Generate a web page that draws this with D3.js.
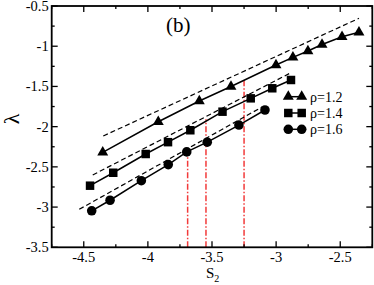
<!DOCTYPE html>
<html>
<head>
<meta charset="utf-8">
<script src="https://cdn.jsdelivr.net/npm/d3@7"></script>
<style>
  body { margin: 0; background: #fff; }
</style>
</head>
<body>
<div id="chart"></div>
<script>
// ---- data ----
const tri12 = [[-4.352, -2.319], [-3.919, -1.939], [-3.599, -1.681], [-3.352, -1.501], [-3.001, -1.234],
    [-2.869, -1.138], [-2.752, -1.060], [-2.642, -0.979], [-2.486, -0.882], [-2.354, -0.827]]
const sq14 = [[-4.451, -2.734], [-4.270, -2.573], [-4.017, -2.340], [-3.843, -2.193], [-3.669, -2.045],
    [-3.418, -1.814], [-3.198, -1.648], [-3.030, -1.523], [-2.884, -1.420]]
const circ16 = [[-4.438, -3.046], [-4.295, -2.915], [-4.051, -2.672], [-3.841, -2.472], [-3.697, -2.314],
    [-3.537, -2.193], [-3.290, -1.980], [-3.087, -1.793]]

// dashed fits (start / end)
const fit12 = [[-4.348, -2.116], [-2.354, -0.653]]
const fit14 = [[-4.430, -2.601], [-2.884, -1.329]]
const fit16 = [[-4.535, -3.028], [-3.110, -1.756]]

// red dash-dot markers: [S2, top λ]
const redLines = [[-3.69, -2.278], [-3.547, -1.909], [-3.25, -1.411]]

const legendLabels = ["ρ=1.2", "ρ=1.4", "ρ=1.6"]
const xTicks = [-4.5, -4, -3.5, -3, -2.5]
const yTicks = [-3.5, -3, -2.5, -2, -1.5, -1, -0.5]

//____________________________LAYOUT________________________//
const W = 374, H = 285
const margin = {top: 6, right: 1.7, bottom: 37.7, left: 51.7}
const FONT = "'Liberation Serif', 'Times New Roman', Tinos, 'DejaVu Serif', serif"

const svg = d3.select('#chart').append('svg')
    .attr('width', W)
    .attr('height', H)
    .attr('font-family', FONT)
    .style('font-family', FONT)

const x = d3.scaleLinear().domain([-4.75, -2.25]).range([margin.left, W - margin.right])
const y = d3.scaleLinear().domain([-3.5, -0.5]).range([H - margin.bottom, margin.top])

const line = d3.line().x(d => x(d[0])).y(d => y(d[1]))

//___red dash-dot verticals___//
svg.append('g').selectAll('line')
    .data(redLines)
    .join('line')
    .attr('x1', d => x(d[0]))
    .attr('x2', d => x(d[0]))
    .attr('y1', y(-3.5))
    .attr('y2', d => y(d[1]))
    .attr('stroke', '#f23a3a')
    .attr('stroke-width', 1.5)
    .attr('stroke-dasharray', '6,2,1.5,2')

//___dashed fits___//
svg.append('g').selectAll('path')
    .data([fit12, fit14, fit16])
    .join('path')
    .attr('d', line)
    .attr('fill', 'none')
    .attr('stroke', 'black')
    .attr('stroke-width', 1.2)
    .attr('stroke-dasharray', '5,3')

//___solid connecting lines___//
const series = [tri12, sq14, circ16]
svg.append('g').selectAll('path')
    .data(series)
    .join('path')
    .attr('d', line)
    .attr('fill', 'none')
    .attr('stroke', 'black')
    .attr('stroke-width', 1.5)

//___markers___//
const symbols = [
    d3.symbol().type(d3.symbolTriangle).size(52),
    d3.symbol().type(d3.symbolSquare).size(72),
    d3.symbol().type(d3.symbolCircle).size(72)
]

series.forEach((s, i) => {
    svg.append('g').selectAll('path')
        .data(s)
        .join('path')
        .attr('transform', d => `translate(${x(d[0])},${y(d[1])})`)
        .attr('d', symbols[i]())
        .attr('fill', 'black')
})

//___axes: ticks inward on all four sides___//
const major = 6, minor = 3
const xMinor = d3.range(-4.75, -2.2, 0.25).filter(v => !xTicks.some(t => Math.abs(t - v) < 1e-6))
const yMinor = d3.range(-3.5, -0.45, 0.25).filter(v => !yTicks.some(t => Math.abs(t - v) < 1e-6))

const ax = svg.append('g').attr('stroke', 'black').attr('stroke-width', 1.3)
xTicks.forEach(v => {
    ax.append('line').attr('x1', x(v)).attr('x2', x(v)).attr('y1', y(-3.5)).attr('y2', y(-3.5) - major)
    ax.append('line').attr('x1', x(v)).attr('x2', x(v)).attr('y1', y(-0.5)).attr('y2', y(-0.5) + major)
})
xMinor.forEach(v => {
    ax.append('line').attr('x1', x(v)).attr('x2', x(v)).attr('y1', y(-3.5)).attr('y2', y(-3.5) - minor)
    ax.append('line').attr('x1', x(v)).attr('x2', x(v)).attr('y1', y(-0.5)).attr('y2', y(-0.5) + minor)
})
yTicks.forEach(v => {
    ax.append('line').attr('x1', x(-4.75)).attr('x2', x(-4.75) + major).attr('y1', y(v)).attr('y2', y(v))
    ax.append('line').attr('x1', x(-2.25)).attr('x2', x(-2.25) - major).attr('y1', y(v)).attr('y2', y(v))
})
yMinor.forEach(v => {
    ax.append('line').attr('x1', x(-4.75)).attr('x2', x(-4.75) + minor).attr('y1', y(v)).attr('y2', y(v))
    ax.append('line').attr('x1', x(-2.25)).attr('x2', x(-2.25) - minor).attr('y1', y(v)).attr('y2', y(v))
})

svg.append('rect')
    .attr('x', x(-4.75)).attr('y', y(-0.5))
    .attr('width', x(-2.25) - x(-4.75)).attr('height', y(-3.5) - y(-0.5))
    .attr('fill', 'none').attr('stroke', 'black').attr('stroke-width', 1.8)

//___tick labels___//
svg.append('g').selectAll('text')
    .data(xTicks)
    .join('text')
    .attr('x', d => x(d))
    .attr('y', y(-3.5) + 15)
    .attr('text-anchor', 'middle')
    .attr('font-size', 14.5)
    .text(d => d)

svg.append('g').selectAll('text')
    .data(yTicks)
    .join('text')
    .attr('x', margin.left - 3)
    .attr('y', d => y(d) + 5)
    .attr('text-anchor', 'end')
    .attr('font-size', 14.5)
    .text(d => d)

//___axis titles & panel label___//
svg.append('text')
    .attr('x', 206).attr('y', 278)
    .attr('font-size', 15)
    .html('S<tspan dy="4" font-size="10">2</tspan>')

svg.append('text')
    .attr('transform', 'translate(19,119) rotate(-90)')
    .attr('text-anchor', 'middle')
    .attr('font-size', 22)
    .text('λ')

svg.append('text')
    .attr('x', 166).attr('y', 32)
    .attr('font-size', 21)
    .text('(b)')

//___legend___//
const leg = svg.append('g')
legendLabels.forEach((lab, i) => {
    const ly = 96.7 + i * 16.3
    leg.append('line').attr('x1', 288.3).attr('x2', 301.7).attr('y1', ly).attr('y2', ly)
        .attr('stroke', 'black').attr('stroke-width', 1.5)
    ;[288.3, 301.7].forEach(lx => {
        leg.append('path').attr('transform', `translate(${lx},${ly})`)
            .attr('d', symbols[i]()).attr('fill', 'black')
    })
    leg.append('text').attr('x', 310).attr('y', ly + 5)
        .attr('font-size', 14).text(lab)
})
</script>
</body>
</html>
